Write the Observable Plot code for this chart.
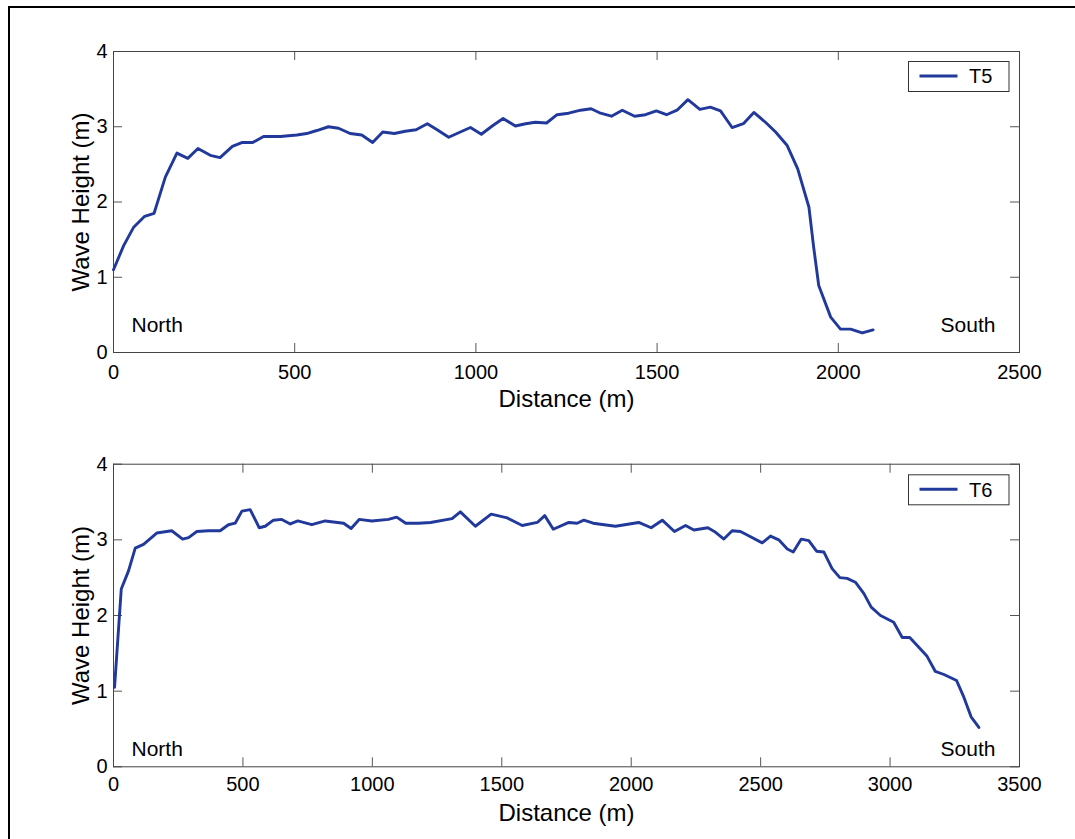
<!DOCTYPE html>
<html><head><meta charset="utf-8">
<script src="https://cdn.jsdelivr.net/npm/d3@7"></script>
<script src="https://cdn.jsdelivr.net/npm/@observablehq/plot@0.6"></script>
<style>
html,body{margin:0;padding:0;background:#fff;width:1075px;height:839px;overflow:hidden;}
#wrap{position:relative;width:1075px;height:839px;overflow:hidden;}
#btop{position:absolute;left:7.7px;top:5.7px;width:1100px;height:2px;background:#000;}
#bleft{position:absolute;left:7.7px;top:5.7px;width:2px;height:900px;background:#000;}
.panel{position:absolute;left:0;}
</style></head><body><div id="wrap"><div id="btop"></div><div id="bleft"></div></div>
<script>
// ---- data ----
const t5Distance = [0,28,55,86,112,143,175,205,233,267,294,328,354,384,414,460,506,533,561,593,621,653,685,715,743,775,805,835,866,893,925,957,985,1015,1045,1075,1109,1137,1164,1195,1224,1256,1289,1318,1344,1374,1404,1438,1468,1498,1526,1555,1585,1618,1647,1675,1707,1738,1767,1799,1827,1859,1888,1919,1932,1946,1979,2006,2034,2066,2096];
const t5Height = [1.10,1.42,1.66,1.81,1.85,2.33,2.65,2.58,2.71,2.62,2.59,2.74,2.79,2.79,2.87,2.87,2.89,2.91,2.95,3.00,2.98,2.91,2.89,2.79,2.93,2.91,2.94,2.96,3.04,2.96,2.86,2.93,2.99,2.90,3.01,3.11,3.01,3.04,3.06,3.05,3.16,3.18,3.22,3.24,3.18,3.14,3.22,3.14,3.16,3.21,3.16,3.22,3.36,3.23,3.26,3.21,2.99,3.04,3.19,3.06,2.93,2.75,2.44,1.93,1.40,0.89,0.47,0.31,0.31,0.26,0.30];
const t6Distance = [4,30,58,84,116,167,225,267,290,322,367,412,444,470,496,528,563,586,618,650,683,712,766,818,889,918,949,998,1062,1094,1129,1178,1225,1308,1340,1398,1459,1521,1579,1637,1666,1699,1759,1791,1817,1853,1939,2029,2077,2120,2167,2210,2242,2296,2326,2358,2390,2422,2461,2506,2538,2570,2603,2626,2657,2686,2716,2744,2776,2806,2834,2866,2899,2927,2963,3014,3047,3076,3111,3143,3175,3208,3257,3285,3313,3343];
const t6Height = [1.05,2.35,2.59,2.89,2.94,3.09,3.12,3.01,3.03,3.11,3.12,3.12,3.20,3.22,3.38,3.40,3.16,3.18,3.26,3.27,3.21,3.25,3.20,3.25,3.22,3.15,3.27,3.25,3.27,3.30,3.22,3.22,3.23,3.28,3.37,3.18,3.34,3.29,3.19,3.23,3.32,3.14,3.23,3.22,3.26,3.22,3.18,3.23,3.16,3.26,3.11,3.19,3.13,3.16,3.10,3.01,3.12,3.11,3.04,2.96,3.05,3.00,2.88,2.84,3.01,2.99,2.85,2.84,2.62,2.50,2.49,2.44,2.29,2.11,2.00,1.91,1.71,1.71,1.58,1.46,1.26,1.22,1.14,0.92,0.66,0.52];
const yTicks = [0,1,2,3,4];
const t5XTicks = [0,500,1000,1500,2000,2500];
const t6XTicks = [0,500,1000,1500,2000,2500,3000,3500];
const seriesNames = ["T5","T6"];
const sideLabels = ["North","South"];
const xLabel = "Distance (m)";
const yLabel = "Wave Height (m)";

// ---- style ----
const FONT = "'Liberation Sans', Arial, Helvetica, sans-serif";
const LINE = "#21399a";

function panel({xs, ys, name, xTicks, xMax, top, height, marginTop, marginBottom, tickPadX, labelDy, sideDy, legendTop}) {
  const data = xs.map((x, i) => ({x, y: ys[i]}));
  const W = 1075, mL = 113, mR = 56;
  const innerW = W - mL - mR, innerH = height - marginTop - marginBottom;
  const tl = 9;
  const svg = Plot.plot({
    width: W, height, marginLeft: mL, marginRight: mR, marginTop, marginBottom,
    style: {fontFamily: FONT, fontSize: "20px", color: "#000", background: "transparent", overflow: "visible"},
    x: {domain: [0, xMax]},
    y: {domain: [0, 4]},
    marks: [
      Plot.ruleX(xTicks, {insetTop: innerH - tl, stroke: "#555"}),
      Plot.ruleX(xTicks, {insetBottom: innerH - tl, stroke: "#555"}),
      Plot.ruleY(yTicks, {insetRight: innerW - tl, stroke: "#555"}),
      Plot.ruleY(yTicks, {insetLeft: innerW - tl, stroke: "#555"}),
      Plot.frame({stroke: "#444"}),
      Plot.axisX(xTicks, {tickSize: 0, tickPadding: tickPadX, fontSize: 20, label: null, tickFormat: d => String(d)}),
      Plot.axisY(yTicks, {tickSize: 0, tickPadding: 6, fontSize: 20, label: null, tickFormat: d => String(d)}),
      Plot.text([xLabel], {frameAnchor: "bottom", dy: labelDy, lineAnchor: "bottom", textAnchor: "middle", fontSize: 24}),
      Plot.text([yLabel], {frameAnchor: "left", dx: -25, rotate: -90, lineAnchor: "bottom", textAnchor: "middle", fontSize: 24}),
      Plot.text([sideLabels[0]], {frameAnchor: "bottom-left", dx: 18, dy: -sideDy, textAnchor: "start", lineAnchor: "bottom", fontSize: 21}),
      Plot.text([sideLabels[1]], {frameAnchor: "bottom-right", dx: -24, dy: -sideDy, textAnchor: "end", lineAnchor: "bottom", fontSize: 21}),
      Plot.line(data, {x: "x", y: "y", stroke: LINE, strokeWidth: 2.9, strokeLinejoin: "round"})
    ]
  });
  // legend box (top-right inside frame)
  const lg = d3.select(svg).append("g").attr("transform", `translate(908.5,${legendTop + 0.5})`);
  lg.append("rect").attr("width", 100.5).attr("height", 30).attr("fill", "#fff").attr("stroke", "#333").attr("stroke-width", 1);
  lg.append("line").attr("x1", 11).attr("x2", 49).attr("y1", 14.5).attr("y2", 14.5).attr("stroke", LINE).attr("stroke-width", 2.9);
  lg.append("text").attr("x", 60.5).attr("y", 21.8).attr("text-anchor", "start")
    .attr("font-size", 20).attr("font-family", FONT).attr("fill", "#000").text(name);
  const div = document.createElement("div");
  div.className = "panel";
  div.style.top = top + "px";
  div.appendChild(svg);
  document.getElementById("wrap").appendChild(div);
}

panel({xs: t5Distance, ys: t5Height, name: seriesNames[0], xTicks: t5XTicks, xMax: 2500,
  top: 0, height: 420, marginTop: 51, marginBottom: 68, tickPadX: 12, labelDy: 54.7, sideDy: 20.6, legendTop: 61});
panel({xs: t6Distance, ys: t6Height, name: seriesNames[1], xTicks: t6XTicks, xMax: 3500,
  top: 420, height: 419, marginTop: 43.7, marginBottom: 72.7, tickPadX: 10, labelDy: 53.7, sideDy: 10.6, legendTop: 54.3});
</script>
</body></html>
